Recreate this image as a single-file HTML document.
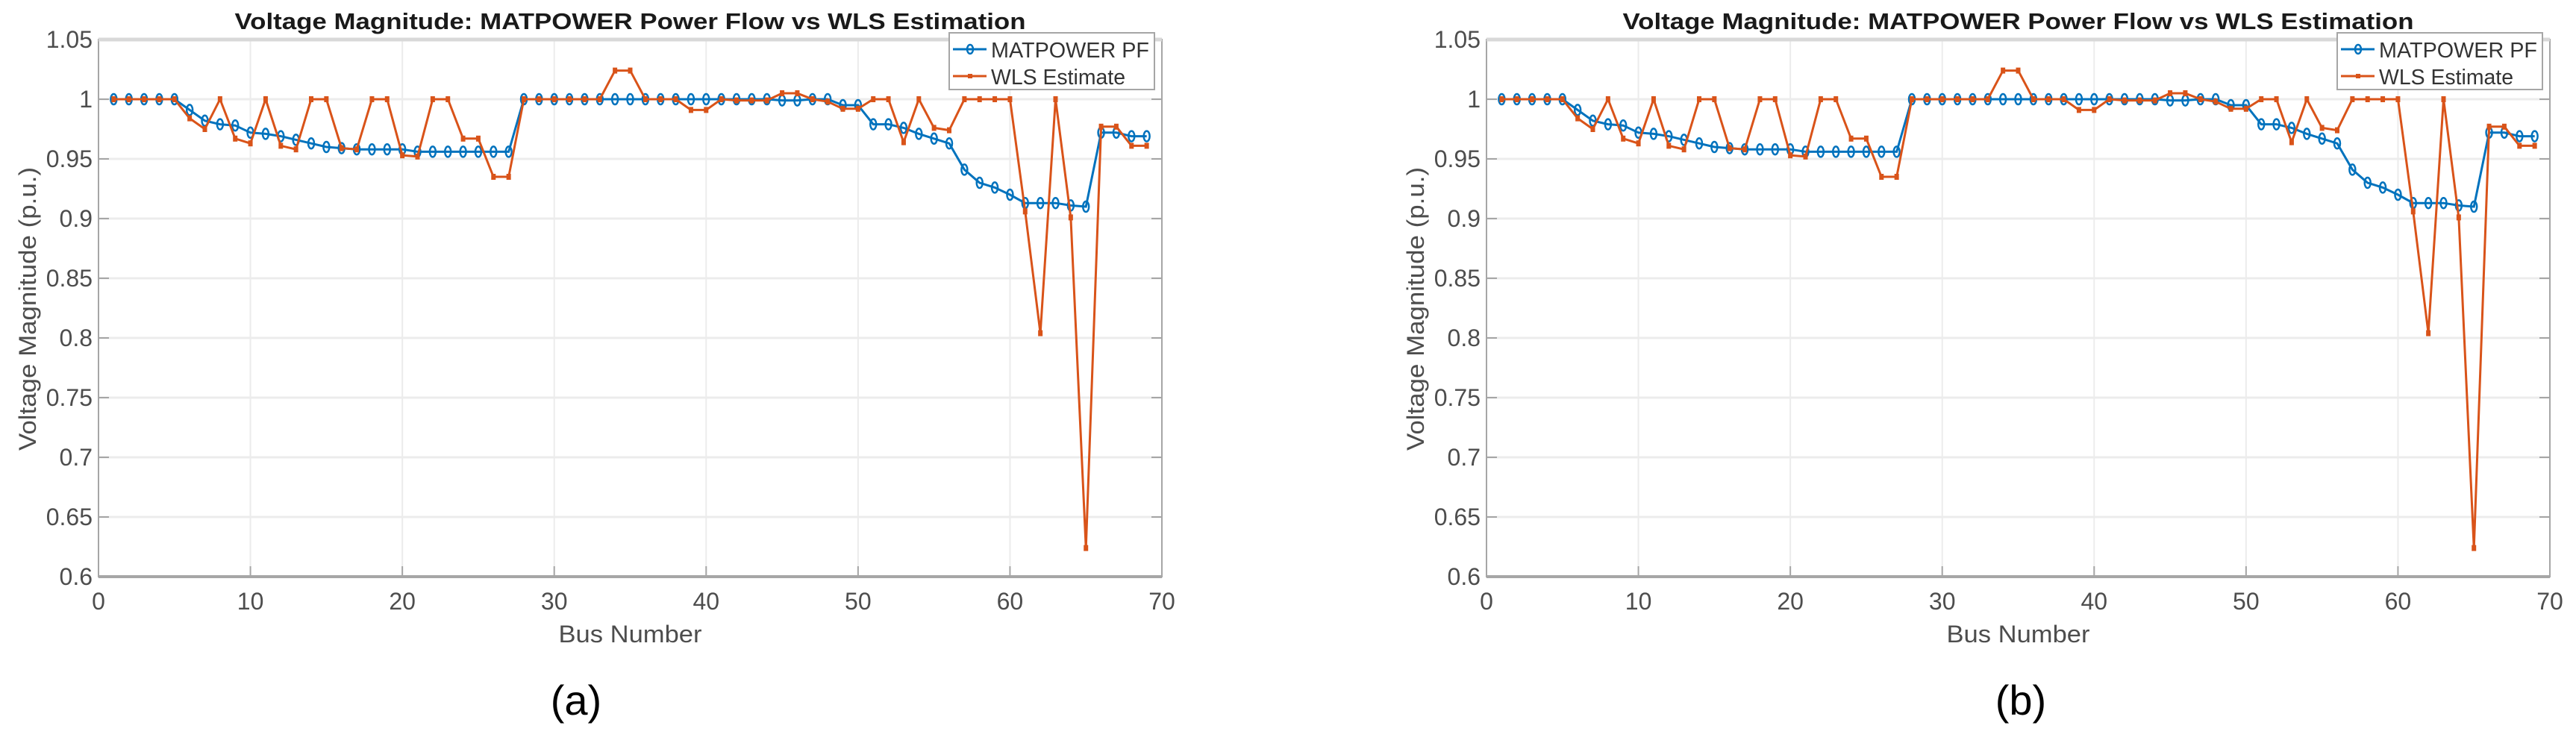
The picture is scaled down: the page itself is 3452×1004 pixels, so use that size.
<!DOCTYPE html>
<html><head><meta charset="utf-8"><style>
html,body{margin:0;padding:0;background:#fff;}
svg{display:block;font-family:"Liberation Sans",sans-serif;}
</style></head><body>
<svg id="fig" width="3452" height="1004" viewBox="0 0 3452 1004" xmlns="http://www.w3.org/2000/svg"></svg>
<script>
const buses = [];
for (let i = 1; i <= 69; i++) buses.push(i);
const pfValues = [1,1,1,1,1,0.991,0.982,0.979,0.978,0.972,0.971,0.969,0.966,0.963,0.960,0.959,0.958,0.958,0.958,0.958,0.956,0.956,0.956,0.956,0.956,0.956,0.956,
1,1,1,1,1,1,1,1,1,1,1,1,1,1,1,1,1,0.999,0.999,1,1,0.995,0.995,0.979,0.979,0.976,0.971,0.967,0.963,0.941,0.930,0.926,0.920,0.913,0.913,0.913,0.911,0.910,0.972,0.972,0.969,0.969];
const wlsValues = [1,1,1,1,1,0.984,0.975,1,0.967,0.963,1,0.961,0.958,1,1,0.959,0.958,1,1,0.953,0.952,1,1,0.967,0.967,0.935,0.935,
1,1,1,1,1,1,1.024,1.024,1,1,1,0.991,0.991,1,0.999,0.999,0.999,1.005,1.005,1,0.998,0.992,0.992,1,1,0.964,1,0.976,0.974,1,1,1,1,0.906,0.804,1,0.901,0.624,0.977,0.977,0.961,0.961];
const xTicks = [0,10,20,30,40,50,60,70];
const yTicks = [0.6,0.65,0.7,0.75,0.8,0.85,0.9,0.95,1,1.05];
const yTickLabels = ["0.6","0.65","0.7","0.75","0.8","0.85","0.9","0.95","1","1.05"];
const seriesNames = ["MATPOWER PF","WLS Estimate"];

const NS = "http://www.w3.org/2000/svg";
const svg = document.getElementById('fig');
function mk(tag, attrs, parent) {
  const e = document.createElementNS(NS, tag);
  for (const k in attrs) e.setAttribute(k, attrs[k]);
  (parent || svg).appendChild(e);
  return e;
}
function panel(ox, labelX, label, idx) {
  const L = ox, R = ox + 1425, T = 53, B = 773;
  const xs = v => L + (v - 0) / 70 * (R - L);
  const ys = v => B - (v - 0.6) / 0.45 * (B - T);
  const g = mk('g', {});
  
  
  mk('rect', {x: L, y: T, width: R - L, height: B - T, fill: '#fff'}, g);
  xTicks.forEach(t => {
    const l = mk('line', {x1: xs(t), x2: xs(t), y1: T, y2: B, stroke: '#ececec', 'stroke-width': 2}, g);
    
    
    mk('line', {x1: xs(t), x2: xs(t), y1: B, y2: B - 14, stroke: '#a6a6a6', 'stroke-width': 2}, g);
    const tx = mk('text', {x: xs(t), y: 817, 'text-anchor': 'middle', 'font-size': 32, fill: '#4d4d4d'}, g);
    tx.textContent = t;
    
    
  });
  yTicks.forEach((t, i) => {
    const l = mk('line', {x1: L, x2: R, y1: ys(t), y2: ys(t), stroke: '#ececec', 'stroke-width': 3}, g);
    
    
    mk('line', {x1: L, x2: L + 14, y1: ys(t), y2: ys(t), stroke: '#a6a6a6', 'stroke-width': 2}, g);
    mk('line', {x1: R, x2: R - 14, y1: ys(t), y2: ys(t), stroke: '#a6a6a6', 'stroke-width': 2}, g);
    const tx = mk('text', {x: L - 8, y: ys(t) + 11, 'text-anchor': 'end', 'font-size': 32, fill: '#4d4d4d'}, g);
    tx.textContent = yTickLabels[i];
    
    
  });
  const box = mk('rect', {x: L, y: T, width: R - L, height: B - T, fill: 'none', stroke: '#a6a6a6', 'stroke-width': 2}, g);
  
  
  mk('line', {x1: L, x2: R, y1: T, y2: T, stroke: '#d8d8d8', 'stroke-width': 5}, g);
  mk('line', {x1: L, x2: R, y1: B, y2: B, stroke: '#a6a6a6', 'stroke-width': 4}, g);

  const pfPts = buses.map((b, i) => xs(b) + ',' + ys(pfValues[i])).join(' ');
  const pl = mk('polyline', {points: pfPts, fill: 'none', stroke: '#0072BD', 'stroke-width': 3}, g);
  
  
  buses.forEach((b, i) => {
    const c = mk('ellipse', {cx: xs(b), cy: ys(pfValues[i]), rx: 4, ry: 7, fill: 'none', stroke: '#0072BD', 'stroke-width': 2.5}, g);
    
    
  });
  const wPts = buses.map((b, i) => xs(b) + ',' + ys(wlsValues[i])).join(' ');
  const wl = mk('polyline', {points: wPts, fill: 'none', stroke: '#D95319', 'stroke-width': 3}, g);
  
  
  buses.forEach((b, i) => {
    const r = mk('rect', {x: xs(b) - 3, y: ys(wlsValues[i]) - 4, width: 6, height: 8, fill: '#D95319'}, g);
    
    
  });

  const title = mk('text', {x: (L + R) / 2, y: 39, 'text-anchor': 'middle', 'font-size': 31, 'font-weight': 'bold', fill: '#1a1a1a', textLength: 1060, lengthAdjust: 'spacingAndGlyphs'}, g);
  title.textContent = 'Voltage Magnitude: MATPOWER Power Flow vs WLS Estimation';
  
  

  const xl = mk('text', {x: (L + R) / 2, y: 861, 'text-anchor': 'middle', 'font-size': 32, fill: '#4d4d4d', textLength: 192, lengthAdjust: 'spacingAndGlyphs'}, g);
  xl.textContent = 'Bus Number';
  
  
  const yl = mk('text', {x: 0, y: 0, 'text-anchor': 'middle', 'font-size': 32, fill: '#4d4d4d', textLength: 380, lengthAdjust: 'spacingAndGlyphs', transform: 'translate(' + (L - 84) + ',414) rotate(-90)'}, g);
  yl.textContent = 'Voltage Magnitude (p.u.)';
  
  

  const lg = mk('g', {}, g);
  
  
  const lx = R - 285, ly = 44;
  mk('rect', {x: lx, y: ly, width: 275, height: 76, fill: '#fff', stroke: '#a6a6a6', 'stroke-width': 2}, lg);
  const colors = ['#0072BD', '#D95319'];
  seriesNames.forEach((n, i) => {
    const yy = ly + 22 + i * 36;
    const e = mk('g', {}, lg);
    
    
    mk('line', {x1: lx + 5, x2: lx + 50, y1: yy, y2: yy, stroke: colors[i], 'stroke-width': 3}, e);
    if (i === 0) mk('ellipse', {cx: lx + 28, cy: yy, rx: 4, ry: 6, fill: 'none', stroke: colors[i], 'stroke-width': 2.5}, e);
    else mk('rect', {x: lx + 25, y: yy - 3, width: 6, height: 6, fill: colors[i]}, e);
    const t = mk('text', {x: lx + 56, y: yy + 11, 'font-size': 29, fill: '#333', textLength: i === 0 ? 212 : 180, lengthAdjust: 'spacingAndGlyphs'}, e);
    t.textContent = n;
  });

  const sub = mk('text', {x: labelX, y: 958, 'text-anchor': 'middle', 'font-size': 56, fill: '#000'});
  sub.textContent = label;
  
  
}
panel(132, 772, '(a)', 'a');
panel(1992, 2708, '(b)', 'b');
</script>
</body></html>
